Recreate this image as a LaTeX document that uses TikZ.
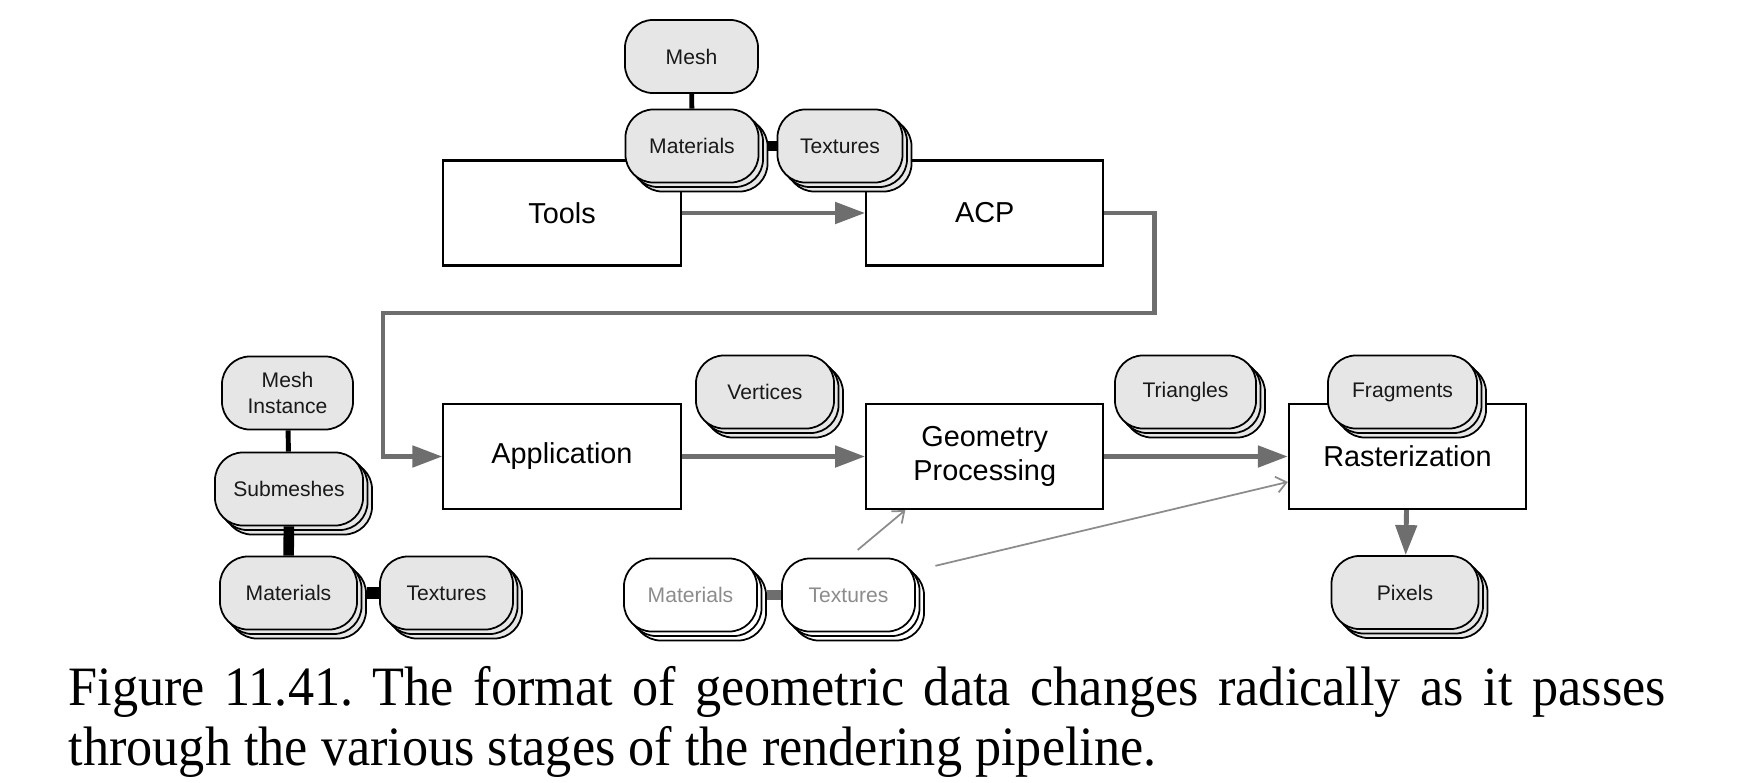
\documentclass[tikz,border=0pt]{standalone}
\usepackage{fontspec}
\setmainfont{Liberation Serif}
\setsansfont{Liberation Sans}
\newfontfamily\capfont[FakeStretch=0.94]{Liberation Serif}
\usetikzlibrary{arrows.meta,positioning,shadows}

\definecolor{pillgray}{HTML}{E6E6E6}
\definecolor{flowgray}{HTML}{6E6E6E}

\begin{document}
\frenchspacing
\begin{tikzpicture}[
  x=0.01cm, y=-0.01cm,
  node distance=4.225cm,
  stage/.style={rectangle, draw, line width=0.6pt, minimum width=2.37cm, minimum height=1.05cm,
    font=\sffamily\fontsize{8.2}{9.8}\selectfont, align=center},
  blob/.style={rectangle, rounded corners=0.28cm, draw, line width=0.5pt, fill=pillgray,
    minimum width=1.33cm, minimum height=0.73cm, inner sep=0pt, text=black!90,
    font=\sffamily\fontsize{6}{7.3}\selectfont, align=center},
  blobs/.style={blob, double copy shadow={shadow xshift=0.045cm, shadow yshift=-0.045cm,
    fill=pillgray, draw=black, line width=0.5pt}},
  ghosts/.style={blob, fill=white, text=black!45, double copy shadow={shadow xshift=0.045cm,
    shadow yshift=-0.045cm, fill=white, draw=black, line width=0.5pt}},
  flow/.style={draw=flowgray, line width=1.4pt, -{Triangle[length=0.3cm, width=0.21cm]}},
  hint/.style={draw=black!45, line width=0.5pt, -{Straight Barb[length=0.1cm, width=0.16cm]}},
  bond/.style={draw=#1},
  bond/.default=black
]
  \useasboundingbox (0,0) rectangle (1740,782);

  % pipeline stages
  \node[stage] (tools) at (562,213) {Tools};
  \node[stage] (acp) [right of=tools] {ACP};
  \node[stage] (app) at (562,456.5) {Application};
  \node[stage] (geo) [right of=app] {Geometry\\Processing};
  \node[stage] (ras) [right of=geo] {Rasterization};

  % data formats
  \node[blob] (mesh) at (691.5,56.5) {Mesh};
  \node[blobs] (mat1) at (692,146) {Materials};
  \node[blobs, minimum width=1.25cm] (tex1) at (840,146) {Textures};
  \node[blobs, minimum width=1.38cm] (vert) at (765,392) {Vertices};
  \node[blobs, minimum width=1.41cm] (tri) at (1185.5,392) {Triangles};
  \node[blobs, minimum width=1.49cm] (frag) at (1402.5,392) {Fragments};
  \node[blobs, minimum width=1.47cm] (pix) at (1405,592.5) {Pixels};

  \node[blob, minimum width=1.31cm] (inst) at (287.5,393) {Mesh\\Instance};
  \node[blobs, minimum width=1.48cm] (sub) at (289,489) {Submeshes};
  \node[blobs, minimum width=1.37cm] (mat2) at (288.5,593) {Materials};
  \node[blobs] (tex2) at (446.5,593) {Textures};

  \node[ghosts] (matw) at (690.5,595) {Materials};
  \node[ghosts] (texw) at (848.5,595) {Textures};

  % links between data
  \draw[bond, line width=1.4pt] (mesh) -- (mat1);
  \draw[bond, line width=2.6pt] (mat1.east) ++(0.09cm,0) -- (tex1.west);
  \draw[bond, line width=1.4pt] (inst) -- (sub);
  \draw[bond, line width=3pt] (sub) -- (mat2);
  \draw[bond, line width=3.4pt] (mat2.east) ++(0.09cm,0) -- (tex2.west);
  \draw[bond=flowgray, line width=2.6pt] (matw.east) ++(0.09cm,0) -- (texw.west);

  % data flow
  \foreach \from/\to in {tools/acp, app/geo, geo/ras, ras/pix}
    \draw[flow] (\from) -- (\to);
  \coordinate (bend) at (383,313);
  \draw[flow] (acp.east) -- ++(50,0) |- (bend) |- (app.west);
  \draw[hint, shorten <=0.12cm] (texw.north) -- (geo.214);
  \draw[hint, shorten <=0.2cm] (texw.20) -- (ras.192);

  % caption
  \node[anchor=base west, inner sep=0pt, font=\capfont\fontsize{15.8}{17}\selectfont] (cap1) at (68,705)
    {\makebox[15.96cm][s]{Figure 11.41. The format of geometric data changes radically as it passes}};
  \node[anchor=base west, inner sep=0pt, font=\capfont\fontsize{15.8}{17}\selectfont] (cap2) at (68,765)
    {through the various stages of the rendering pipeline.};
\end{tikzpicture}
\end{document}
